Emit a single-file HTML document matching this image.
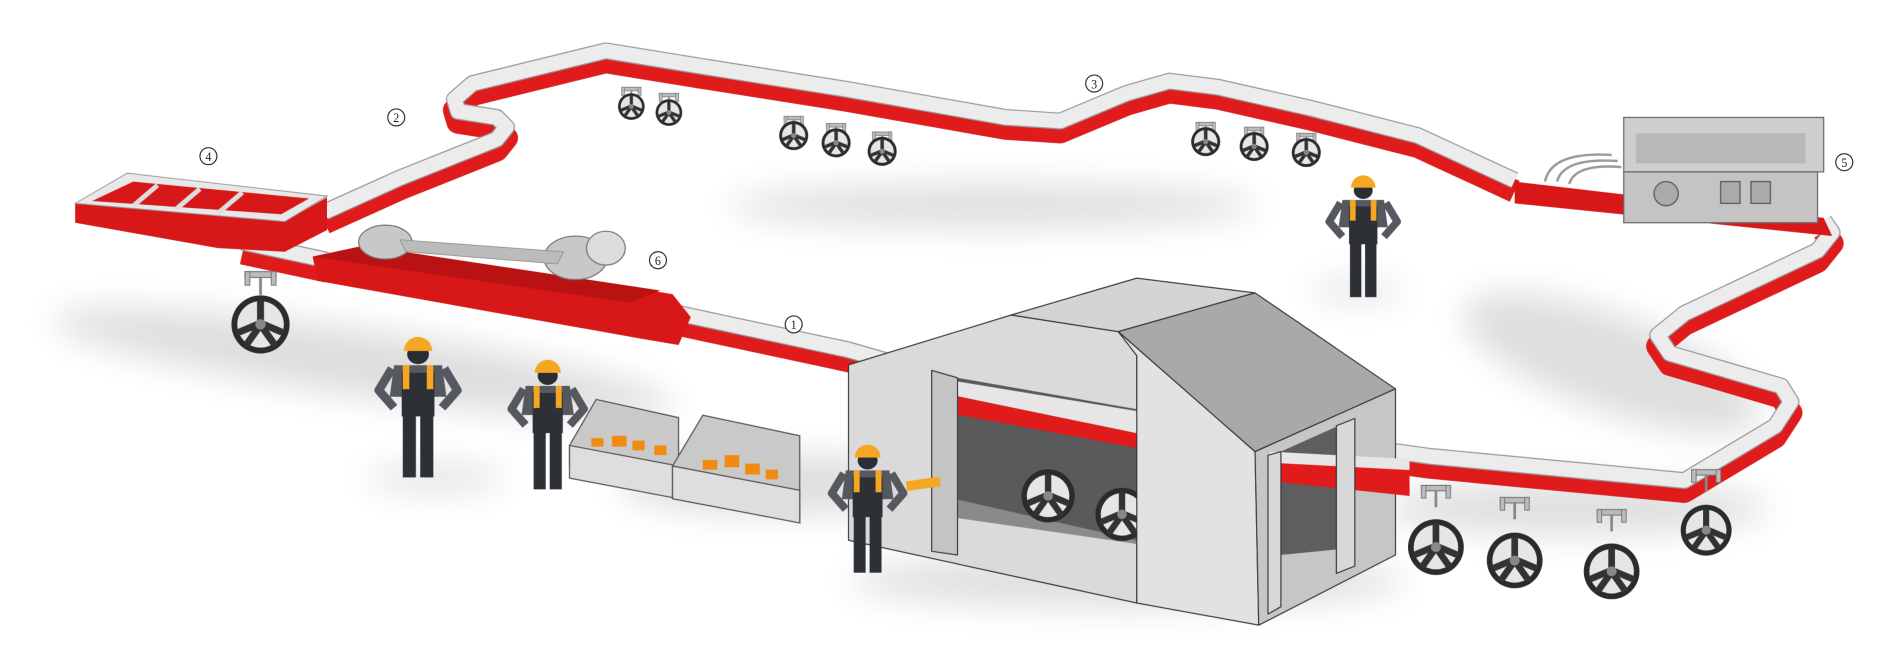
<!DOCTYPE html>
<html><head><meta charset="utf-8"><style>
html,body{margin:0;padding:0;background:#fff;}
svg{display:block;}
text{font-family:"Liberation Serif",serif;}
</style></head><body>
<svg width="1900" height="650" viewBox="0 0 1568 537" preserveAspectRatio="none" xmlns="http://www.w3.org/2000/svg">
<defs>
<filter id="bl" x="-50%" y="-50%" width="200%" height="200%"><feGaussianBlur stdDeviation="14"/></filter>
<g id="wh">
<circle r="10" fill="#2b2b2b"/>
<circle r="8" fill="#e6e6e6"/>
<g stroke="#333" stroke-width="2.4" stroke-linecap="round">
<line x1="0" y1="-1" x2="0" y2="-7.5"/><line x1="1" y1="0" x2="7" y2="2.5"/><line x1="0.6" y1="1" x2="4.5" y2="6.5"/><line x1="-0.6" y1="1" x2="-4.5" y2="6.5"/><line x1="-1" y1="0" x2="-7" y2="2.5"/>
</g>
<circle r="1.8" fill="#888"/>
</g>
<g id="hg"><rect x="-8" y="-16" width="16" height="3" fill="#bbb" stroke="#777" stroke-width=".6"/><rect x="-8" y="-16" width="2.5" height="7" fill="#bbb" stroke="#777" stroke-width=".5"/><rect x="5.5" y="-16" width="2.5" height="7" fill="#bbb" stroke="#777" stroke-width=".5"/><line x1="0" y1="-13" x2="0" y2="-4" stroke="#888" stroke-width="1.5"/></g>
<g id="wk">
<path d="M-24,16 L-36,36 L-22,52" fill="none" stroke="#55585e" stroke-width="8" stroke-linejoin="round"/>
<path d="M24,16 L36,36 L22,52" fill="none" stroke="#55585e" stroke-width="8" stroke-linejoin="round"/>
<path d="M-22,13 L22,13 L26,42 L-26,42Z" fill="#55585e"/>
<rect x="-15" y="20" width="30" height="40" fill="#2d3035"/>
<rect x="-14" y="13" width="6" height="22" fill="#f5a623"/><rect x="8" y="13" width="6" height="22" fill="#f5a623"/>
<rect x="-14" y="56" width="12" height="60" fill="#2d3035"/><rect x="2" y="56" width="12" height="60" fill="#2d3035"/>
<ellipse cx="0" cy="3" rx="10" ry="9" fill="#2a2d33"/>
<path d="M-13,0 A13,13 0 0 1 13,0 Z" fill="#f5a623"/>
</g>
</defs>
<rect width="1568" height="537" fill="#fff"/>
<g filter="url(#bl)" fill="#000" opacity=".13">
<ellipse cx="300" cy="300" rx="260" ry="28" transform="rotate(8 300 300)"/>
<ellipse cx="820" cy="170" rx="220" ry="18"/>
<ellipse cx="1330" cy="300" rx="130" ry="40" transform="rotate(20 1330 300)"/>
<ellipse cx="930" cy="480" rx="230" ry="22"/>
<ellipse cx="1300" cy="420" rx="160" ry="22"/>
<ellipse cx="640" cy="400" rx="130" ry="25"/>
<ellipse cx="1120" cy="240" rx="40" ry="8"/>
<ellipse cx="360" cy="395" rx="60" ry="10"/>
</g>
<g fill="none" stroke-linejoin="round" stroke-linecap="butt">
<g transform="translate(0,6)" stroke="#e01b1b" stroke-width="19">
<polyline points="268,178 330,150 410,118 418,108 410,100 378,95 375,85 390,72 500,45 580,58 700,77 830,100 875,103 930,80 965,70 1005,75 1080,92 1170,115 1250,152"/>
<polyline points="1505,185 1512,195 1500,210 1390,262 1368,280 1378,295 1470,322 1478,335 1465,355 1390,400 1180,380 1050,362 790,318 700,292 560,262"/>
<polyline points="270,218 200,203"/>
</g>
<g transform="translate(0,-3)" stroke="#999" stroke-width="14">
<polyline points="268,178 330,150 410,118 418,108 410,100 378,95 375,85 390,72 500,45 580,58 700,77 830,100 875,103 930,80 965,70 1005,75 1080,92 1170,115 1250,152"/>
<polyline points="1505,185 1512,195 1500,210 1390,262 1368,280 1378,295 1470,322 1478,335 1465,355 1390,400 1180,380 1050,362 790,318 700,292 560,262"/>
<polyline points="270,218 200,203"/>
</g>
<g transform="translate(0,-3)" stroke="#ececec" stroke-width="12">
<polyline points="268,178 330,150 410,118 418,108 410,100 378,95 375,85 390,72 500,45 580,58 700,77 830,100 875,103 930,80 965,70 1005,75 1080,92 1170,115 1250,152"/>
<polyline points="1505,185 1512,195 1500,210 1390,262 1368,280 1378,295 1470,322 1478,335 1465,355 1390,400 1180,380 1050,362 790,318 700,292 560,262"/>
<polyline points="270,218 200,203"/>
</g>
</g>
<polygon points="62,168 62,184 180,205 235,208 270,190 270,163 235,183" fill="#d81818"/>
<polygon points="62,168 105,143 270,162 235,183" fill="#e8e8e8" stroke="#999" stroke-width=".8"/>
<polygon points="76,166 110,150 255,164 232,177" fill="#d81818"/>
<g stroke="#ddd" stroke-width="4"><line x1="130" y1="153" x2="110" y2="170"/><line x1="165" y1="156" x2="145" y2="173"/><line x1="200" y1="159" x2="180" y2="176"/></g>
<polygon points="258,212 300,203 555,243 570,262 560,285 530,280 262,232" fill="#d81818"/>
<polygon points="258,212 300,203 545,240 520,250" fill="#b81212"/>
<ellipse cx="318" cy="200" rx="22" ry="14" fill="#c8c8c8" stroke="#777"/>
<ellipse cx="475" cy="213" rx="26" ry="18" fill="#c8c8c8" stroke="#777"/>
<ellipse cx="500" cy="205" rx="16" ry="14" fill="#ddd" stroke="#777"/>
<polygon points="330,198 465,208 460,218 335,208" fill="#bbb" stroke="#888" stroke-width=".6"/>
<polygon points="1250,150 1505,180 1512,195 1250,168" fill="#d81818"/>
<rect x="1340" y="97" width="165" height="45" fill="#cfcfcf" stroke="#666"/>
<rect x="1350" y="110" width="140" height="25" fill="#b8b8b8"/>
<rect x="1340" y="142" width="160" height="42" fill="#c4c4c4" stroke="#666"/>
<circle cx="1375" cy="160" r="10" fill="#aaa" stroke="#555"/><rect x="1420" y="150" width="16" height="18" fill="#aaa" stroke="#555"/><rect x="1445" y="150" width="16" height="18" fill="#aaa" stroke="#555"/>
<g fill="none" stroke="#999" stroke-width="2"><path d="M1275,150 Q1280,125 1330,128"/><path d="M1285,150 Q1290,130 1335,133"/><path d="M1295,152 Q1300,135 1338,138"/></g>
<g>
<use href="#hg" transform="translate(521,88)"/><use href="#wh" transform="translate(521,88) scale(1.1)"/>
<use href="#hg" transform="translate(552,93)"/><use href="#wh" transform="translate(552,93) scale(1.1)"/>
<use href="#hg" transform="translate(655,112)"/><use href="#wh" transform="translate(655,112) scale(1.2)"/>
<use href="#hg" transform="translate(690,118)"/><use href="#wh" transform="translate(690,118) scale(1.2)"/>
<use href="#hg" transform="translate(728,125)"/><use href="#wh" transform="translate(728,125) scale(1.2)"/>
<use href="#hg" transform="translate(995,117)"/><use href="#wh" transform="translate(995,117) scale(1.2)"/>
<use href="#hg" transform="translate(1035,121)"/><use href="#wh" transform="translate(1035,121) scale(1.2)"/>
<use href="#hg" transform="translate(1078,126)"/><use href="#wh" transform="translate(1078,126) scale(1.2)"/>
<use href="#hg" transform="translate(215,250) scale(1.6)"/><use href="#wh" transform="translate(215,268) scale(2.4)"/>
<use href="#hg" transform="translate(1185,425) scale(1.5)"/><use href="#wh" transform="translate(1185,452) scale(2.3)"/>
<use href="#hg" transform="translate(1250,435) scale(1.5)"/><use href="#wh" transform="translate(1250,463) scale(2.3)"/>
<use href="#hg" transform="translate(1330,445) scale(1.5)"/><use href="#wh" transform="translate(1330,472) scale(2.3)"/>
<use href="#hg" transform="translate(1408,412) scale(1.5)"/><use href="#wh" transform="translate(1408,438) scale(2.1)"/>
</g>
<g transform="translate(685,214.5) scale(0.305)" stroke="#333" stroke-width="3" stroke-linejoin="round">
<polygon points="50,285 490,150 780,195 830,260 830,930 50,760" fill="#dadada"/>
<polygon points="345,320 830,405 830,770 345,660" fill="#5a5a5a" stroke="none"/>
<polygon points="345,650 830,760 830,770 345,700" fill="#8a8a8a" stroke="none"/>
<polygon points="345,370 830,470 830,510 345,420" fill="#e01b1b" stroke="none"/>
<polygon points="345,330 830,410 830,470 345,370" fill="#e6e6e6" stroke="none"/>
<g stroke="none"><use href="#wh" transform="translate(590,640) scale(7.2)"/><use href="#wh" transform="translate(790,690) scale(7.2)"/></g>
<polygon points="275,300 345,320 345,800 275,790" fill="#c4c4c4"/>
<polygon points="490,150 830,50 1150,90 780,195" fill="#d4d4d4"/>
<polygon points="780,195 1150,520 1160,990 830,930 830,260" fill="#e2e2e2"/>
<polygon points="780,195 1150,90 1530,350 1150,520" fill="#a9a9a9"/>
<polygon points="1150,520 1530,350 1530,800 1160,990" fill="#c6c6c6"/>
<polygon points="1220,520 1420,430 1420,780 1220,800" fill="#5e5e5e" stroke="none"/>
<polygon points="1190,540 1568,560 1568,640 1190,600" fill="#e01b1b" stroke="none"/>
<polygon points="1190,520 1568,540 1568,570 1190,550" fill="#e6e6e6" stroke="none"/>
<polygon points="1185,530 1220,520 1220,940 1185,960" fill="#d8d8d8"/>
<polygon points="1370,450 1420,430 1420,830 1370,850" fill="#d8d8d8"/>
</g>
<g stroke="#555" stroke-width="1">
<polygon points="470,368 492,330 560,345 560,410 470,385" fill="#c9c9c9"/>
<polygon points="470,368 560,385 560,412 470,395" fill="#dedede"/>
<polygon points="555,385 580,343 660,360 660,432 555,410" fill="#c9c9c9"/>
<polygon points="555,385 660,405 660,432 555,412" fill="#dedede"/>
</g>
<g fill="#f08a10"><rect x="488" y="362" width="10" height="7"/><rect x="505" y="360" width="12" height="9"/><rect x="522" y="364" width="10" height="8"/><rect x="540" y="368" width="10" height="8"/><rect x="580" y="380" width="12" height="8"/><rect x="598" y="376" width="12" height="10"/><rect x="615" y="383" width="12" height="9"/><rect x="632" y="388" width="10" height="8"/></g>
<use href="#wk" transform="translate(345,290) scale(.9)"/>
<use href="#wk" transform="translate(452,308) scale(.83)"/>
<use href="#wk" transform="translate(716,378) scale(.82)"/>
<rect x="748" y="396" width="28" height="8" fill="#f5a623" transform="rotate(-8 760 400)"/>
<use href="#wk" transform="translate(1125,155) scale(.78)"/>
<g font-size="10" text-anchor="middle" fill="#222">
<circle cx="655" cy="268" r="7" fill="#fff" stroke="#333"/><text x="655" y="272">1</text>
<circle cx="327" cy="97" r="7" fill="#fff" stroke="#333"/><text x="327" y="101">2</text>
<circle cx="903" cy="69" r="7" fill="#fff" stroke="#333"/><text x="903" y="73">3</text>
<circle cx="172" cy="129" r="7" fill="#fff" stroke="#333"/><text x="172" y="133">4</text>
<circle cx="1522" cy="134" r="7" fill="#fff" stroke="#333"/><text x="1522" y="138">5</text>
<circle cx="543" cy="215" r="7" fill="#fff" stroke="#333"/><text x="543" y="219">6</text>
</g>
</svg>
</body></html>
